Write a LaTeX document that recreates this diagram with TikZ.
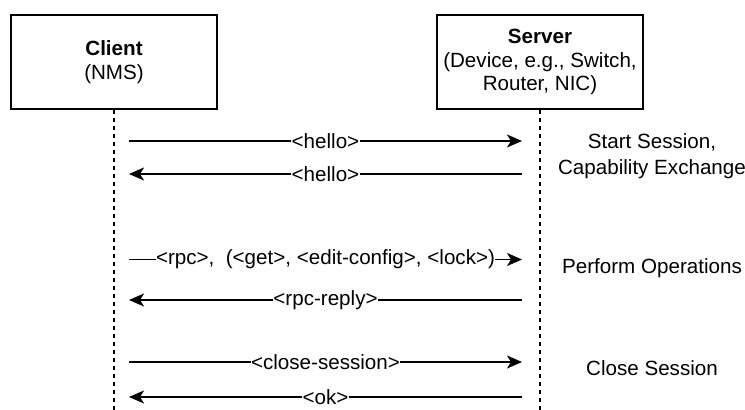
\documentclass[tikz,border=0pt]{standalone}
\usepackage{fontspec}
\setmainfont{Liberation Sans}
\usetikzlibrary{arrows.meta}
\begin{document}
\begin{tikzpicture}[x=1pt,y=-1pt,
  font=\fontsize{20.6}{23.5}\selectfont,
  actor/.style={draw, line width=1.8pt, minimum width=206pt, minimum height=94pt, align=center, inner sep=0pt},
  lifeline/.style={line width=1.6pt, dash pattern=on 4.5pt off 3.5pt},
  msg/.style={line width=1.7pt, -{Stealth[length=15pt,width=13pt,inset=4pt]}},
  lbl/.style={midway, fill=white, inner sep=0.5pt},
  note/.style={align=center, font=\fontsize{20.6}{26}\selectfont}]
\useasboundingbox (0,0) rectangle (745,410);
\node[actor] (client) at (114,62) {\textbf{Client}\\(NMS)};
\node[actor] (server) at (540,62) {\textbf{Server}\\(Device, e.g., Switch,\\Router, NIC)};
\coordinate (cend) at (114,410);
\coordinate (send) at (540,410);
\draw[lifeline] (client.south) -- (cend);
\draw[lifeline] (server.south) -- (send);
% message endpoints
\coordinate (c1) at (129,141); \coordinate (s1) at (522,141);
\coordinate (c2) at (129,174); \coordinate (s2) at (522,174);
\coordinate (c3) at (129,259.5); \coordinate (s3) at (522,259.5);
\coordinate (c4) at (129,300); \coordinate (s4) at (522,300);
\coordinate (c5) at (129,362); \coordinate (s5) at (522,362);
\coordinate (c6) at (129,397); \coordinate (s6) at (522,397);
\draw[msg] (c1) -- node[lbl] (l1) {<hello>} (s1);
\draw[msg] (s2) -- node[lbl] (l2) {<hello>} (c2);
\draw[msg] (c3) -- node[lbl] (l3) {<rpc>,\ \ (<get>, <edit-config>, <lock>)} (s3);
\draw[msg] (s4) -- node[lbl] (l4) {<rpc-reply>} (c4);
\draw[msg] (c5) -- node[lbl] (l5) {<close-session>} (s5);
\draw[msg] (s6) -- node[lbl] (l6) {<ok>} (c6);
\node[note] (n1) at (652,156) {Start Session,\\Capability Exchange};
\node[note] (n2) at (652,268) {Perform Operations};
\node[note] (n3) at (652,368) {Close Session};
\end{tikzpicture}
\end{document}
